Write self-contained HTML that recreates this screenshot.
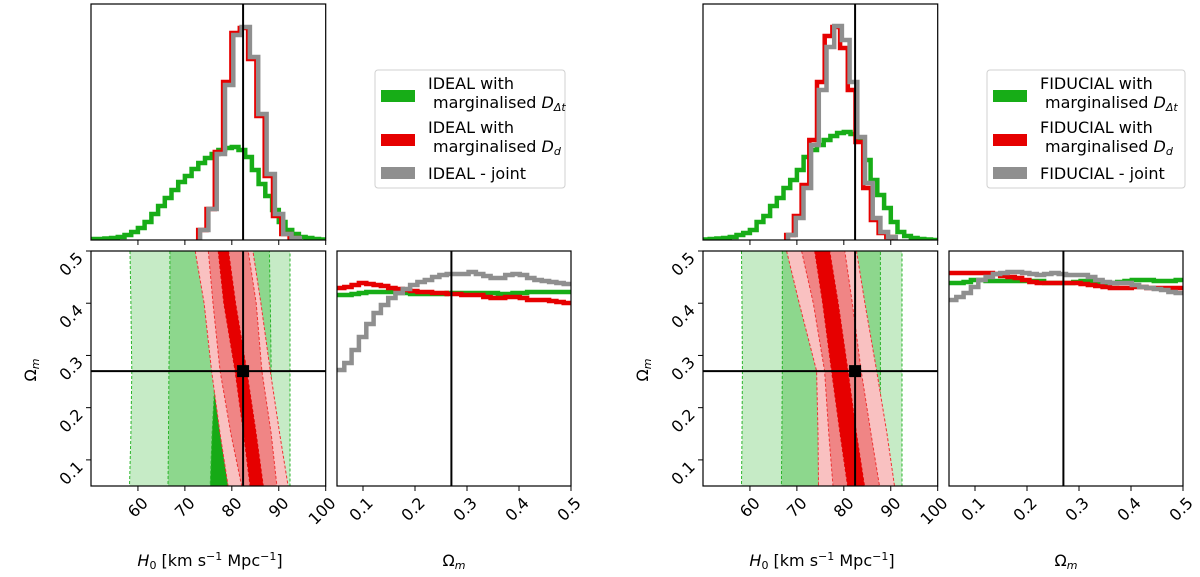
<!DOCTYPE html>
<html><head><meta charset="utf-8"><title>H0 Omega_m corner plots</title>
<style>
html,body{margin:0;padding:0;background:#fff;}
svg{display:block;font-family:"DejaVu Sans","Liberation Sans",sans-serif;}
</style></head>
<body>
<svg id="chart" width="1200" height="577" viewBox="0 0 1200 577" xmlns="http://www.w3.org/2000/svg"></svg>
<script>
// ---------- data ----------
const h0Ticks = [60, 70, 80, 90, 100];
const omTicks = [0.1, 0.2, 0.3, 0.4, 0.5];
const truthH0 = 82.4;
const truthOm = 0.27;
const contourOmLevels = [0.5, 0.4, 0.27, 0.15, 0.05];

const greenBinStart = 50;
const greenBinWidth = 50 / 35;
const idealGreenH0 = [1,1,1.5,2,3,5,8,12,18,26,34,42,50,58,64,71,77,82,86,90,92,93,90,83,70,56,44,30,18,10,6,3,2,1,0.5];
const fidGreenH0 = [0.5,1,1.5,2,3,5,7,10,18,24,34,42,52,60,70,83,90,95,100,104,107,108,106,100,80,60,45,32,18,8,4,2,1,0.5,0];
const idealJointStart = 73.24, idealJointWidth = 1.77;
const idealJointH0 = [10,31,86,155,205,213,183,126,66,26,6,2];
const idealRedStart = 72.84, idealRedWidth = 1.77;
const idealRedH0 = [10,31,88,158,207,212,181,124,64,24,6,2];
const fidJointStart = 68.12, fidJointWidth = 1.64;
const fidJointH0 = [5,22,52,95,150,193,214,200,158,103,57,22,8,3];
const fidRedStart = 67.72, fidRedWidth = 1.64;
const fidRedH0 = [5,24,55,100,158,204,213,192,150,98,52,20,7,3];

const omBinStart = 0.05;
const omBinWidth = 0.45 / 32;
const idealJointOm = [116,123,136,149,162,173,181,188,193,197,201,204,206,209,211,212,212,212,214,212,210,208,208,211,212,211,208,206,205,204,203,202];
const idealGreenOm = [191,191,192,193,194,194,194,194,193,193,192,192,192,192,192,193,193,193,193,193,193,193,192,192,193,193,194,194,194,194,194,194];
const idealRedOm = [198,199,201,203,202,201,200,198,197,196,195,194,194,193,193,192,192,191,191,191,189,188,188,189,189,188,186,186,186,185,184,183];
const fidJointOm = [186,189,193,199,206,209,212,213,214,214,213,212,211,212,213,212,211,211,211,209,206,204,203,203,203,201,199,198,197,196,194,193];
const fidGreenOm = [203,203,204,206,206,205,205,205,205,205,205,205,205,203,203,203,203,204,205,205,204,203,203,204,205,206,206,206,205,205,205,206];
const fidRedOm = [213,213,213,213,213,213,212,210,209,208,206,204,203,203,203,203,203,203,202,201,200,199,198,198,198,199,199,198,198,198,198,198];

const idealGreenOuterL = [58.3,58.5,58.7,58.5,58.2], idealGreenOuterR = [92.4,92.4,92.4,92.4,92.4];
const idealGreenMidL = [66.8,66.8,66.6,66.5,66.4], idealGreenMidR = [88.0,88.2,88.4,88.2,88.0];
const idealGreenInL = [77.5,77.0,76.5,75.8,75.4], idealGreenInR = [83,84,85,86,87];
const idealRedOuterL = [72.2,74.1,75.7,77.5,79.2], idealRedOuterR = [84.5,86.2,88.2,90.2,92.0];
const idealRedMidL = [75.0,76.0,77.5,79.8,82.1], idealRedMidR = [83.5,85.2,86.4,88.4,89.6];
const idealRedInL = [77.1,78.3,80.7,82.5,83.9], idealRedInR = [79.3,80.8,83.2,85.2,86.7];

const fidGreenOuterL = [58.2,58.3,58.4,58.3,58.2], fidGreenOuterR = [92.4,92.4,92.4,92.4,92.4];
const fidGreenMidL = [66.9,66.9,66.9,66.8,66.7], fidGreenMidR = [87.8,87.8,87.8,87.8,87.8];
const fidGreenInL = [75.6,75.4,75.1,74.8,74.6], fidGreenInR = [82.5,82.8,83.0,83.3,83.5];
const fidRedOuterL = [67.8,70.5,74.2,74.5,74.6], fidRedOuterR = [82.7,84.5,87.0,89.2,90.8];
const fidRedMidL = [71.0,73.5,75.9,76.8,77.7], fidRedMidR = [80.2,81.8,83.7,85.8,87.6];
const fidRedInL = [73.8,75.5,77.4,79.2,80.8], fidRedInR = [77.0,78.8,80.9,82.7,84.4];

// ---------- drawing ----------
const NS = "http://www.w3.org/2000/svg";
const svg = document.getElementById("chart");
const GREEN = "#17ad17", RED = "#e60000", GRAY = "#8f8f8f";
const FS = 16;

function mk(tag, attrs, parent) {
  const e = document.createElementNS(NS, tag);
  for (const k in attrs) e.setAttribute(k, attrs[k]);
  (parent || svg).appendChild(e);
  return e;
}
function xH(v, dx) { return 91 + dx + (v - 50) / 50 * 234.7; }
function yHist(v) { return 240 - v; }
function xOm(v, dx) { return 337 + dx + (v - 0.05) / 0.45 * 234; }
function yOm(v) { return 486 - (v - 0.05) / 0.45 * 235; }
function yOmHist(v) { return 486 - v; }

function stepPathX(start, width, vals, xf, yf, dx, fromBase) {
  let d;
  if (fromBase) d = "M" + xf(start, dx).toFixed(1) + "," + yf(0);
  else d = "M" + xf(start, dx).toFixed(1) + "," + yf(vals[0]).toFixed(1);
  vals.forEach((v, i) => {
    d += " V" + yf(v).toFixed(1) + " H" + xf(start + (i + 1) * width, dx).toFixed(1);
  });
  if (fromBase) d += " V" + yf(0);
  return d;
}

function drawFigure(dx, F) {
  const g = mk("g", {});
  
  

  const top = mk("g", {}, g);
  
  
  const clipId = F.prefix + "clipTop";
  const cp = mk("clipPath", { id: clipId }, top);
  mk("rect", { x: 91 + dx, y: 4, width: 234.7, height: 236 }, cp);
  const hg = mk("g", { "clip-path": "url(#" + clipId + ")" }, top);
  const series = [
    [greenBinStart, greenBinWidth, F.greenH0, GREEN, 'green-h0-histogram'],
    [F.redStart, F.redWidth, F.redH0, RED, 'red-h0-histogram'],
    [F.jointStart, F.jointWidth, F.jointH0, GRAY, 'joint-h0-histogram']
  ];
  series.forEach(s => {
    const p = mk("path", { d: stepPathX(s[0], s[1], s[2], xH, yHist, dx, true), fill: "none", stroke: s[3], "stroke-width": 4.5, "stroke-linejoin": "miter" }, hg);
    
    
  });
  mk("line", { x1: xH(truthH0, dx), x2: xH(truthH0, dx), y1: 4, y2: 240, stroke: "#000", "stroke-width": 2 }, hg);
  mk("rect", { x: 91 + dx, y: 4, width: 234.7, height: 236, fill: "none", stroke: "#000", "stroke-width": 1.2 }, top);
  h0Ticks.forEach(t => mk("line", { x1: xH(t, dx), x2: xH(t, dx), y1: 240, y2: 245, stroke: "#000", "stroke-width": 1 }, top));

  const c = mk("g", {}, g);
  
  
  const clip2 = F.prefix + "clipC";
  const cp2 = mk("clipPath", { id: clip2 }, c);
  mk("rect", { x: 91 + dx, y: 251, width: 234.7, height: 235 }, cp2);
  const cg = mk("g", { "clip-path": "url(#" + clip2 + ")" }, c);
  const bands = [
    [F.gOL, F.gOR, "#c6ebc6", "#2bb52b", 'green-95-region'],
    [F.gML, F.gMR, "#8dd78d", "#2bb52b", 'green-68-region'],
    [F.gIL, F.gIR, "#16aa16", "#2bb52b", 'green-core-region'],
    [F.rOL, F.rOR, "#f9c1c1", "#e33", 'red-95-region'],
    [F.rML, F.rMR, "#f08585", "#e33", 'red-68-region'],
    [F.rIL, F.rIR, "#e60000", "#e60000", 'red-core-region']
  ];
  bands.forEach(b => {
    const pts = [];
    contourOmLevels.forEach((o, i) => pts.push(xH(b[0][i], dx).toFixed(1) + "," + yOm(o).toFixed(1)));
    for (let i = contourOmLevels.length - 1; i >= 0; i--) pts.push(xH(b[1][i], dx).toFixed(1) + "," + yOm(contourOmLevels[i]).toFixed(1));
    const p = mk("polygon", { points: pts.join(" "), fill: b[2], stroke: b[3], "stroke-width": 1, "stroke-dasharray": "3,2" }, cg);
    
    
  });
  mk("line", { x1: xH(truthH0, dx), x2: xH(truthH0, dx), y1: 251, y2: 486, stroke: "#000", "stroke-width": 2 }, cg);
  mk("line", { x1: 91 + dx, x2: 325.7 + dx, y1: yOm(truthOm), y2: yOm(truthOm), stroke: "#000", "stroke-width": 2 }, cg);
  const mark = mk("rect", { x: xH(truthH0, dx) - 6, y: yOm(truthOm) - 6, width: 12, height: 12, fill: "#000" }, cg);
  
  
  mk("rect", { x: 91 + dx, y: 251, width: 234.7, height: 235, fill: "none", stroke: "#000", "stroke-width": 1.2 }, c);
  h0Ticks.forEach(t => {
    mk("line", { x1: xH(t, dx), x2: xH(t, dx), y1: 486, y2: 491, stroke: "#000", "stroke-width": 1 }, c);
    const x = xH(t, dx) + 11;
    const tx = mk("text", { x: x, y: 504, "font-size": FS, "text-anchor": "end", transform: "rotate(-45 " + x + " 504)" }, c);
    tx.textContent = t;
    
    
  });
  omTicks.forEach(t => {
    mk("line", { x1: 86 + dx, x2: 91 + dx, y1: yOm(t), y2: yOm(t), stroke: "#000", "stroke-width": 1 }, c);
    const y = yOm(t) + 8, x = 84 + dx;
    const tx = mk("text", { x: x, y: y, "font-size": FS, "text-anchor": "end", transform: "rotate(-45 " + x + " " + y + ")" }, c);
    tx.textContent = t.toFixed(1);
    
    
  });
  const yl = mk("text", { x: 36 + dx, y: 370, "font-size": FS, "text-anchor": "middle", transform: "rotate(-90 " + (36 + dx) + " 370)" }, g);
  yl.innerHTML = 'Ω<tspan font-style="italic" font-size="11" dy="3">m</tspan>';
  
  
  const xl = mk("text", { x: 210 + dx, y: 566, "font-size": FS, "text-anchor": "middle" }, g);
  xl.innerHTML = '<tspan font-style="italic">H</tspan><tspan font-size="11" dy="3">0</tspan><tspan dy="-3"> [km s</tspan><tspan font-size="11" dy="-6">−1</tspan><tspan dy="6"> Mpc</tspan><tspan font-size="11" dy="-6">−1</tspan><tspan dy="6">]</tspan>';
  
  

  const o = mk("g", {}, g);
  
  
  const clip3 = F.prefix + "clipO";
  const cp3 = mk("clipPath", { id: clip3 }, o);
  mk("rect", { x: 337 + dx, y: 251, width: 234, height: 235 }, cp3);
  const og = mk("g", { "clip-path": "url(#" + clip3 + ")" }, o);
  const os = [[F.greenOm, GREEN, 'green-omega-histogram'], [F.redOm, RED, 'red-omega-histogram'], [F.jointOm, GRAY, 'joint-omega-histogram']];
  os.forEach(s => {
    const p = mk("path", { d: stepPathX(omBinStart, omBinWidth, s[0], xOm, yOmHist, dx, false), fill: "none", stroke: s[1], "stroke-width": 4.5 }, og);
    
    
  });
  mk("line", { x1: xOm(truthOm, dx), x2: xOm(truthOm, dx), y1: 251, y2: 486, stroke: "#000", "stroke-width": 2 }, og);
  mk("rect", { x: 337 + dx, y: 251, width: 234, height: 235, fill: "none", stroke: "#000", "stroke-width": 1.2 }, o);
  omTicks.forEach(t => {
    mk("line", { x1: xOm(t, dx), x2: xOm(t, dx), y1: 486, y2: 491, stroke: "#000", "stroke-width": 1 }, o);
    const x = xOm(t, dx) + 11;
    const tx = mk("text", { x: x, y: 504, "font-size": FS, "text-anchor": "end", transform: "rotate(-45 " + x + " 504)" }, o);
    tx.textContent = t.toFixed(1);
    
    
  });
  const ol = mk("text", { x: 454 + dx, y: 566, "font-size": FS, "text-anchor": "middle" }, g);
  ol.innerHTML = 'Ω<tspan font-style="italic" font-size="11" dy="3">m</tspan>';
  
  

  const lg = mk("g", {}, g);
  
  
  mk("rect", { x: F.legX, y: 70, width: F.legW, height: 118, rx: 3, fill: "#fff", stroke: "#d0d0d0", "stroke-width": 1 }, lg);
  const entries = [
    [GREEN, 90, F.name + " with", "Δt", 'legend-entry-green'],
    [RED, 134, F.name + " with", "d", 'legend-entry-red'],
    [GRAY, 167, F.name + " - joint", null, 'legend-entry-joint']
  ];
  entries.forEach(e => {
    const eg = mk("g", {}, lg);
    
    
    mk("rect", { x: F.legX + 6, y: e[1], width: 34, height: 12, fill: e[0] }, eg);
    if (e[3]) {
      const t1 = mk("text", { x: F.legX + 53, y: e[1] - 1, "font-size": FS }, eg);
      t1.textContent = e[2];
      const t2 = mk("text", { x: F.legX + 58, y: e[1] + 18, "font-size": FS }, eg);
      t2.innerHTML = 'marginalised <tspan font-style="italic">D</tspan><tspan font-size="11" dy="3" font-style="italic">' + e[3] + '</tspan>';
    } else {
      const t1 = mk("text", { x: F.legX + 53, y: e[1] + 12, "font-size": FS }, eg);
      t1.textContent = e[2];
    }
  });
}

drawFigure(0, {
  prefix: "ideal", name: "IDEAL", legX: 375, legW: 190,
  greenH0: idealGreenH0, redStart: idealRedStart, redWidth: idealRedWidth, redH0: idealRedH0,
  jointStart: idealJointStart, jointWidth: idealJointWidth, jointH0: idealJointH0,
  gOL: idealGreenOuterL, gOR: idealGreenOuterR, gML: idealGreenMidL, gMR: idealGreenMidR, gIL: idealGreenInL, gIR: idealGreenInR,
  rOL: idealRedOuterL, rOR: idealRedOuterR, rML: idealRedMidL, rMR: idealRedMidR, rIL: idealRedInL, rIR: idealRedInR,
  greenOm: idealGreenOm, redOm: idealRedOm, jointOm: idealJointOm
});
drawFigure(612, {
  prefix: "fiducial", name: "FIDUCIAL", legX: 987, legW: 198,
  greenH0: fidGreenH0, redStart: fidRedStart, redWidth: fidRedWidth, redH0: fidRedH0,
  jointStart: fidJointStart, jointWidth: fidJointWidth, jointH0: fidJointH0,
  gOL: fidGreenOuterL, gOR: fidGreenOuterR, gML: fidGreenMidL, gMR: fidGreenMidR, gIL: fidGreenInL, gIR: fidGreenInR,
  rOL: fidRedOuterL, rOR: fidRedOuterR, rML: fidRedMidL, rMR: fidRedMidR, rIL: fidRedInL, rIR: fidRedInR,
  greenOm: fidGreenOm, redOm: fidRedOm, jointOm: fidJointOm
});
</script>
</body></html>
